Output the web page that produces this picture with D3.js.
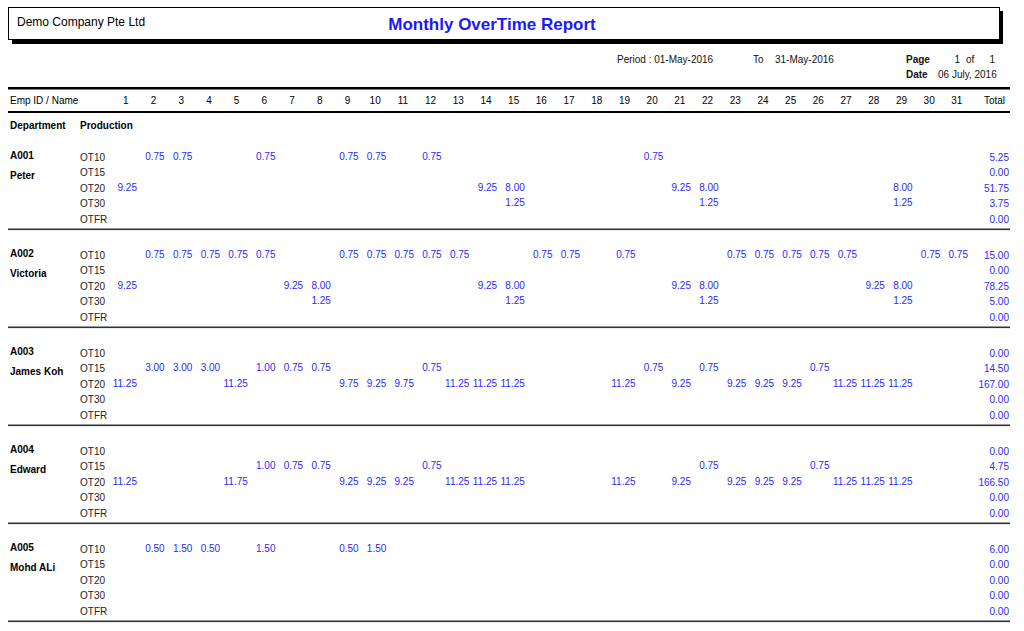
<!DOCTYPE html>
<html lang="en">
<head>
<meta charset="utf-8">
<title>Monthly OverTime Report</title>
<style>
  body { margin: 0; background: #fff; }
  svg text { font-family: "Liberation Sans", Arial, sans-serif; }
</style>
</head>
<body>
<svg width="1024" height="631"></svg>
<script src="https://cdn.jsdelivr.net/npm/d3@7"></script>
<script>
  var days = ["1","2","3","4","5","6","7","8","9","10","11","12","13","14","15","16",
              "17","18","19","20","21","22","23","24","25","26","27","28","29","30","31"];
  var otCodes = ["OT10", "OT15", "OT20", "OT30", "OTFR"];
  var empIds = ["A001", "A002", "A003", "A004", "A005"];
  var empNames = ["Peter", "Victoria", "James Koh", "Edward", "Mohd ALi"];

  // [day, hours] pairs per OT code, one array per employee
  var otA001 = [
    [[2,0.75],[3,0.75],[6,0.75],[9,0.75],[10,0.75],[12,0.75],[20,0.75]],
    [],
    [[1,9.25],[14,9.25],[15,8.00],[21,9.25],[22,8.00],[29,8.00]],
    [[15,1.25],[22,1.25],[29,1.25]],
    []
  ];
  var otA002 = [
    [[2,0.75],[3,0.75],[4,0.75],[5,0.75],[6,0.75],[9,0.75],[10,0.75],[11,0.75],[12,0.75],[13,0.75],
     [16,0.75],[17,0.75],[19,0.75],[23,0.75],[24,0.75],[25,0.75],[26,0.75],[27,0.75],[30,0.75],[31,0.75]],
    [],
    [[1,9.25],[7,9.25],[8,8.00],[14,9.25],[15,8.00],[21,9.25],[22,8.00],[28,9.25],[29,8.00]],
    [[8,1.25],[15,1.25],[22,1.25],[29,1.25]],
    []
  ];
  var otA003 = [
    [],
    [[2,3.00],[3,3.00],[4,3.00],[6,1.00],[7,0.75],[8,0.75],[12,0.75],[20,0.75],[22,0.75],[26,0.75]],
    [[1,11.25],[5,11.25],[9,9.75],[10,9.25],[11,9.75],[13,11.25],[14,11.25],[15,11.25],[19,11.25],
     [21,9.25],[23,9.25],[24,9.25],[25,9.25],[27,11.25],[28,11.25],[29,11.25]],
    [],
    []
  ];
  var otA004 = [
    [],
    [[6,1.00],[7,0.75],[8,0.75],[12,0.75],[22,0.75],[26,0.75]],
    [[1,11.25],[5,11.75],[9,9.25],[10,9.25],[11,9.25],[13,11.25],[14,11.25],[15,11.25],[19,11.25],
     [21,9.25],[23,9.25],[24,9.25],[25,9.25],[27,11.25],[28,11.25],[29,11.25]],
    [],
    []
  ];
  var otA005 = [
    [[2,0.50],[3,1.50],[4,0.50],[6,1.50],[9,0.50],[10,1.50]],
    [],
    [],
    [],
    []
  ];
  var otData = [otA001, otA002, otA003, otA004, otA005];

  var svg = d3.select("svg");
  var fmt = d3.format(".2f");
  var valueColor = "#2a2aff";

  var x = d3.scaleBand().domain(days).range([112, 112 + 27.7 * 31]).padding(0);
  var rowY = d3.scalePoint().domain(otCodes).range([1.5, 64]);
  var blockY = d3.scalePoint().domain(empIds).range([159, 159 + 98 * 4]);
  var totalX = 1009;

  // header box with shadow
  svg.append("rect").attr("x", 12).attr("y", 40).attr("width", 991).attr("height", 4).attr("fill", "#000");
  svg.append("rect").attr("x", 999).attr("y", 11).attr("width", 4).attr("height", 33).attr("fill", "#000");
  svg.append("rect").attr("x", 8.5).attr("y", 7.5).attr("width", 991).attr("height", 32)
    .attr("fill", "#fff").attr("stroke", "#000");

  svg.append("text").attr("x", 17).attr("y", 26).attr("font-size", 12).text("Demo Company Pte Ltd");
  svg.append("text").attr("x", 492).attr("y", 30).attr("text-anchor", "middle")
    .attr("font-size", 17).attr("font-weight", "bold").attr("fill", "#1a1aff")
    .text("Monthly OverTime Report");

  var meta = svg.append("g").attr("font-size", 10).attr("fill", "#111");
  meta.append("text").attr("x", 617).attr("y", 63).text("Period :  01-May-2016");
  meta.append("text").attr("x", 753).attr("y", 63).text("To");
  meta.append("text").attr("x", 775).attr("y", 63).text("31-May-2016");
  meta.append("text").attr("x", 906).attr("y", 63).attr("font-weight", "bold").text("Page");
  meta.append("text").attr("x", 960).attr("y", 63).attr("text-anchor", "end").text("1");
  meta.append("text").attr("x", 966).attr("y", 63).text("of");
  meta.append("text").attr("x", 995).attr("y", 63).attr("text-anchor", "end").text("1");
  meta.append("text").attr("x", 906).attr("y", 78).attr("font-weight", "bold").text("Date");
  meta.append("text").attr("x", 938).attr("y", 78).text("06 July, 2016");

  // column header
  svg.append("rect").attr("x", 8).attr("y", 87).attr("width", 1002).attr("height", 2.5).attr("fill", "#000");
  svg.append("rect").attr("x", 8).attr("y", 111).attr("width", 1002).attr("height", 2).attr("fill", "#000");

  svg.append("text").attr("x", 10).attr("y", 104).attr("font-size", 10).text("Emp ID / Name");
  svg.append("text").attr("x", totalX - 4).attr("y", 104).attr("font-size", 10)
    .attr("text-anchor", "end").text("Total");

  var header = svg.append("g").attr("transform", "translate(0,104)")
    .call(d3.axisTop(x).tickSize(0).tickPadding(0));
  header.select(".domain").remove();
  header.selectAll("text").attr("font-size", 10).attr("fill", "#000")
    .attr("font-family", "Liberation Sans, Arial, sans-serif");

  svg.append("text").attr("x", 10).attr("y", 129).attr("font-size", 10).attr("font-weight", "bold").text("Department");
  svg.append("text").attr("x", 80).attr("y", 129).attr("font-size", 10).attr("font-weight", "bold").text("Production");

  // employee blocks
  empIds.forEach(function(id, i) {
    var g = svg.append("g").attr("transform", "translate(0," + blockY(id) + ")");
    g.append("text").attr("x", 10).attr("y", 0).attr("font-size", 10).attr("font-weight", "bold").text(id);
    g.append("text").attr("x", 10).attr("y", 20).attr("font-size", 10).attr("font-weight", "bold").text(empNames[i]);

    otCodes.forEach(function(code, j) {
      var vals = otData[i][j];
      g.append("text").attr("x", 80).attr("y", rowY(code)).attr("font-size", 10)
        .attr("fill", "#222").text(code);

      g.selectAll(null).data(vals).enter().append("text")
        .attr("x", function(d) { return x(String(d[0])) + x.bandwidth() - 2.7; })
        .attr("y", rowY(code) - 1)
        .attr("text-anchor", "end")
        .attr("font-size", 10)
        .attr("fill", valueColor)
        .text(function(d) { return fmt(d[1]); });

      g.append("text").attr("x", totalX).attr("y", rowY(code)).attr("text-anchor", "end")
        .attr("font-size", 10).attr("fill", valueColor)
        .text(fmt(d3.sum(vals, function(d) { return d[1]; })));
    });

    g.append("rect").attr("x", 8).attr("y", 69.5).attr("width", 1002).attr("height", 1.6).attr("fill", "#333");
  });
</script>
</body>
</html>
